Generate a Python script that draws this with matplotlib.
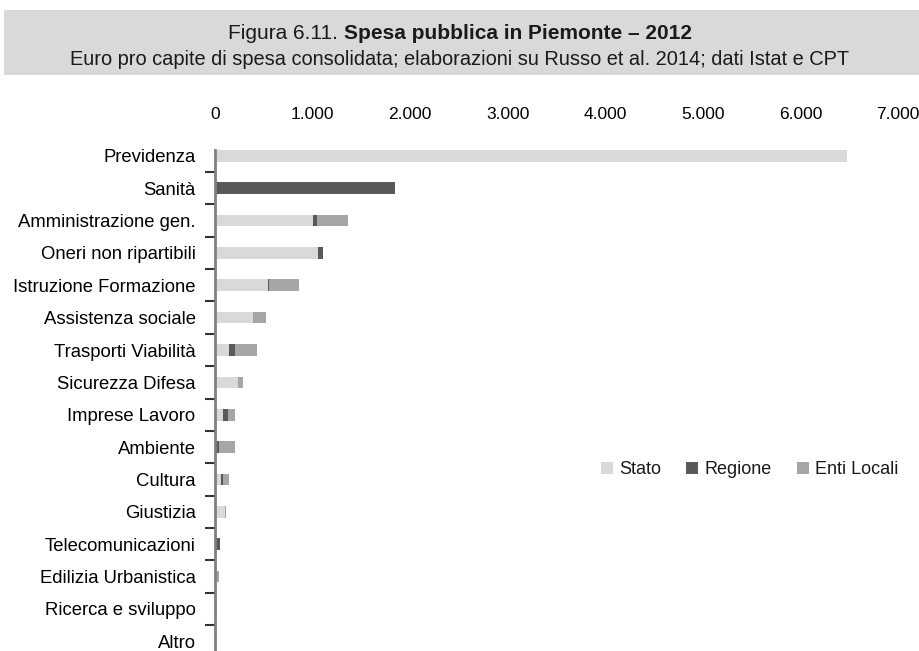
import matplotlib.pyplot as plt
import numpy as np
from matplotlib.ticker import FuncFormatter
from matplotlib.patches import Rectangle

categories = ['Previdenza', 'Sanità', 'Amministrazione gen.', 'Oneri non ripartibili',
              'Istruzione Formazione', 'Assistenza sociale', 'Trasporti Viabilità',
              'Sicurezza Difesa', 'Imprese Lavoro', 'Ambiente', 'Cultura', 'Giustizia',
              'Telecomunicazioni', 'Edilizia Urbanistica', 'Ricerca e sviluppo', 'Altro']
stato = [6480, 0, 1005, 1055, 540, 385, 145, 235, 85, 5, 58, 105, 12, 5, 8, 3]
regione = [0, 1845, 45, 55, 17, 0, 55, 0, 48, 35, 20, 0, 35, 0, 4, 10]
enti_locali = [0, 0, 310, 0, 305, 135, 230, 57, 72, 165, 65, 5, 0, 40, 10, 0]

series = [('Stato', stato, '#d9d9d9'),
          ('Regione', regione, '#595959'),
          ('Enti Locali', enti_locali, '#a6a6a6')]

plt.rcParams['font.family'] = ['Liberation Sans', 'DejaVu Sans']
plt.rcParams['text.color'] = '#1a1a1a'

W, H = 920, 651
fig = plt.figure(figsize=(W / 100, H / 100), dpi=100)

# grey title banner
fig.patches.append(Rectangle((4 / W, 1 - 75 / H), 1 - 4 / W, 65 / H, transform=fig.transFigure,
                             facecolor='#d9d9d9', edgecolor='none', zorder=0))

# title: normal part + bold part, centred together
t1 = fig.text(0, 1 - 39 / H, 'Figura 6.11. ', ha='left', va='baseline', fontsize=15)
t2 = fig.text(0, 1 - 39 / H, 'Spesa pubblica in Piemonte – 2012', ha='left', va='baseline',
              fontsize=15, fontweight='bold')
fig.canvas.draw()
r = fig.canvas.get_renderer()
w1 = t1.get_window_extent(r).width
w2 = t2.get_window_extent(r).width
x0 = (W - (w1 + w2)) / 2
t1.set_x(x0 / W)
t2.set_x((x0 + w1) / W)

fig.text(0.5, 1 - 65 / H,
         'Euro pro capite di spesa consolidata; elaborazioni su Russo et al. 2014; dati Istat e CPT',
         ha='center', va='baseline', fontsize=14.4)

ax = fig.add_axes([215 / W, 0, (898 - 215) / W, 1 - 150 / H])
y = np.arange(len(categories))
left = np.zeros(len(categories))
for name, vals, col in series:
    ax.barh(y, vals, left=left, height=0.36, color=col, label=name)
    left += np.array(vals)

ax.set_xlim(0, 7000)
ax.set_ylim(15.3, -0.18)
ax.xaxis.tick_top()
ax.set_xticks(np.arange(0, 7001, 1000))
ax.xaxis.set_major_formatter(FuncFormatter(lambda v, p: f'{int(v):,}'.replace(',', '.')))
ax.tick_params(axis='x', length=0, labelsize=12.5, pad=20)
ax.set_yticks(y)
ax.set_yticklabels(categories, fontsize=13.3)
ax.tick_params(axis='y', which='major', length=0, pad=14)
ax.set_yticks(np.arange(0.5, 15, 1), minor=True)
ax.tick_params(axis='y', which='minor', length=7, width=1.5, color='#333333', direction='out')
for s in ['top', 'right', 'bottom']:
    ax.spines[s].set_visible(False)
ax.spines['left'].set_color('#808080')
ax.spines['left'].set_linewidth(2)

fig.legend(loc='center left', bbox_to_anchor=(601 / W, 1 - 470 / H), ncol=3, frameon=False,
           fontsize=13, handlelength=0.65, handleheight=0.65, handletextpad=0.35,
           columnspacing=1.4, borderpad=0, borderaxespad=0)

fig.savefig('out.png', dpi=100)
